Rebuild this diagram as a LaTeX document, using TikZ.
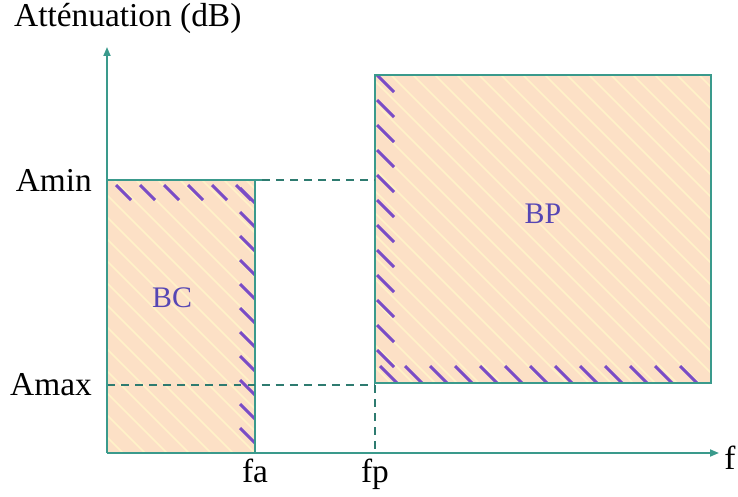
\documentclass[tikz,border=0pt]{standalone}
\usepackage{fontspec}
\setmainfont{Liberation Serif}
\usetikzlibrary{arrows.meta, positioning}
\definecolor{axisteal}{HTML}{3A9A8C}
\definecolor{zonefill}{HTML}{FCE0C6}
\definecolor{zonestripe}{HTML}{FFF2C8}
\definecolor{hatchpurple}{HTML}{7A4CC6}
\definecolor{zonelabel}{HTML}{5646B4}

\begin{document}
\begin{tikzpicture}[
        x=0.02cm, y=-0.02cm,
        axis/.style={-{Triangle[length=1.8mm, width=1.4mm]}, line width=1pt, axisteal},
        zone/.style={fill=zonefill},
        zoneedge/.style={line width=1pt, axisteal},
        guide/.style={dashed, dash pattern=on 4.5pt off 3.5pt, line width=0.7pt, axisteal!80!black},
        stripe/.style={line width=0.9pt, zonestripe},
        hatchmark/.style={line width=1.8pt, hatchpurple},
        ticklabel/.style={font=\fontsize{19}{22}\selectfont},
        zonename/.style={font=\fontsize{17}{20}\selectfont, text=zonelabel}
    ]
        \useasboundingbox (0,0) rectangle (738,497);

        % corners of the axes and of the two zones
        \coordinate (origin) at (107,453);
        \coordinate (ytop) at (107,47);
        \coordinate (xend) at (719,453);
        \coordinate (bcnw) at (107,180);
        \coordinate (bcse) at (255,453);
        \coordinate (bpnw) at (375,75);
        \coordinate (bpse) at (711,383);

        % the two zones: fill, then pale stripes
        \fill[zone] (bcnw) rectangle (bcse);
        \fill[zone] (bpnw) rectangle (bpse);
        \begin{scope}
            \clip (bcnw) rectangle (bcse);
            \foreach \k in {-400,-378,...,300}
                \draw[stripe] (\k,150) -- ++(320,320);
        \end{scope}
        \begin{scope}
            \clip (bpnw) rectangle (bpse);
            \foreach \k in {-40,-18,...,740}
                \draw[stripe] (\k,40) -- ++(360,360);
        \end{scope}

        % purple hatching along the inner edges
        \begin{scope}
            \clip (bcnw) rectangle (bcse);
            \foreach \x in {116,140,...,236}
                \draw[hatchmark] (\x,185) -- ++(15,15);
            \foreach \y in {188,212,...,440}
                \draw[hatchmark] (240,\y) -- ++(15,15);
        \end{scope}
        \begin{scope}
            \clip (bpnw) rectangle (bpse);
            \foreach \y in {75,100,...,350}
                \draw[hatchmark] (377,\y) -- ++(17,17);
            \foreach \x in {380,405,...,700}
                \draw[hatchmark] (\x,366) -- ++(17,17);
        \end{scope}

        % zone outlines
        \draw[zoneedge] (bpnw) rectangle (bpse);
        \draw[zoneedge] (bcse) -- (bcse |- bcnw);
        \coordinate (bcend) at (262,180);
        \draw[zoneedge] (bcnw) -- (bcend);

        % dashed guides
        \coordinate (aminleft) at (bpnw |- bcnw);
        \coordinate (amaxleft) at (107,385);
        \coordinate (amaxright) at (375,385);
        \coordinate (fpfoot) at (375,453);
        \draw[guide] (bcend) -- (aminleft);
        \draw[guide] (amaxleft) -- (amaxright);
        \draw[guide] (amaxright) -- (fpfoot);

        % axes
        \draw[axis] (origin) -- (ytop);
        \draw[axis] (origin) -- (xend);

        % labels
        \node[ticklabel, anchor=east] (amin) at (98,180) {Amin};
        \node[ticklabel, anchor=east] (amax) at (98,385) {Amax};
        \node[ticklabel, below=0pt of bcse] (fa) {fa};
        \node[ticklabel, below=0pt of fpfoot] (fp) {fp};
        \node[ticklabel, anchor=west, inner sep=0pt] (f) at (724,458) {f};
        \node[ticklabel, anchor=west] (atten) at (8,18) {Atténuation (dB)};
        \node[zonename] (bc) at (172,298) {BC};
        \node[zonename] (bp) at (543,214) {BP};
    \end{tikzpicture}
\end{document}
